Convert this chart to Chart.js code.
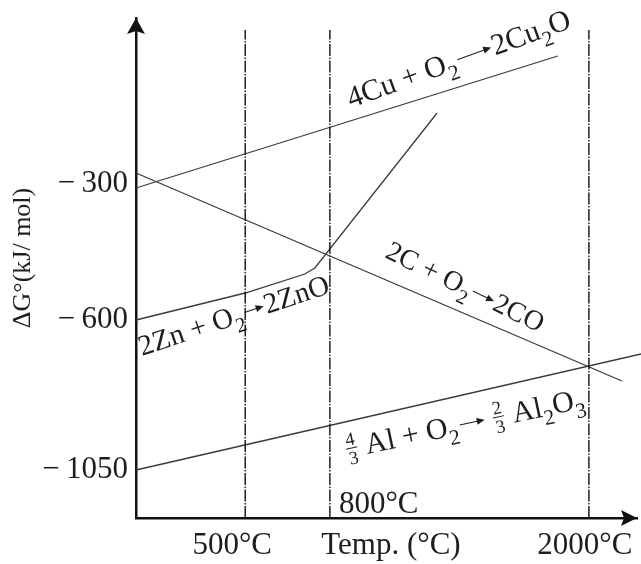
<!DOCTYPE html>
<html><head><meta charset="utf-8">
<script src="https://cdn.jsdelivr.net/npm/chart.js@4/dist/chart.umd.min.js"></script>
<style>html,body{margin:0;padding:0;background:#fff}</style>
</head><body>
<canvas id="c" width="641" height="564"></canvas>
<script>
// Schematic diagram units (the reference is not drawn to scale):
// x: 0 = origin, 100 = arrow tip; y: 0 = temperature axis, 100 = arrow tip
const xTickValues = [19.2, 50.9, 89.6];
const xTickLabels = ['500°C', 'Temp. (°C)', '2000°C'];
const yTickValues = [66.8, 39.6, 9.6];
const yTickLabels = ['−\u2009300', '−\u2009600', '−\u20091050'];
const tempMarkX = [21.8, 38.7, 90.4];      // 500 °C, 800 °C, 2000 °C
const tempMarkTop = 97.6;
const cuX = [0, 84.2];  const cuY = [66.0, 92.4];                 // 4Cu + O2 -> 2Cu2O
const cX  = [0, 97.0];  const cY  = [69.0, 27.4];                 // 2C + O2 -> 2CO
const alX = [0, 100.8]; const alY = [9.6, 32.8];                  // 4/3Al + O2 -> 2/3Al2O3
const znX = [0, 21.8, 33.7, 35.7, 60.1]; const znY = [39.6, 45.0, 48.8, 50.0, 81.0]; // 2Zn + O2 -> 2ZnO

const FAM = '"Liberation Serif", "DejaVu Serif", serif';
const INK = '#1e1e1e';
const LINE = '#3a3a3a';
const pts = (xs, ys) => xs.map((x, i) => ({x, y: ys[i]}));

const datasets = [
  ...tempMarkX.map(x => ({data: [{x, y: 0}, {x, y: tempMarkTop}], borderColor: '#111', borderWidth: 1.4, borderDash: [12, 1.5, 1.5, 1.5]})),
  {data: pts(cuX, cuY), borderColor: LINE, borderWidth: 1.3},
  {data: pts(cX, cY), borderColor: LINE, borderWidth: 1.3},
  {data: pts(alX, alY), borderColor: LINE, borderWidth: 1.3},
  {data: pts(znX, znY), borderColor: LINE, borderWidth: 1.3}
].map(d => Object.assign({pointRadius: 0, fill: false, tension: 0, clip: false}, d));

function drawRuns(ctx, runs, size) {
  let x = 0;
  for (const r of runs) {
    if (r.arrow) {
      const L = r.arrow * size, y = -0.3 * size;
      ctx.beginPath(); ctx.moveTo(x + 2, y); ctx.lineTo(x + L - 4, y); ctx.lineWidth = 1; ctx.stroke();
      ctx.beginPath(); ctx.moveTo(x + L - 1, y); ctx.lineTo(x + L - 9, y - 3.5); ctx.lineTo(x + L - 9, y + 3.5); ctx.closePath(); ctx.fill();
      x += L;
    } else if (r.frac) {
      const fs = size * 0.62; ctx.font = fs + 'px ' + FAM;
      const w = Math.max(ctx.measureText(r.frac[0]).width, ctx.measureText(r.frac[1]).width) + 2;
      const ay = -0.3 * size;
      ctx.textAlign = 'center';
      ctx.fillText(r.frac[0], x + w / 2, ay - 3);
      ctx.textBaseline = 'top'; ctx.fillText(r.frac[1], x + w / 2, ay + 2); ctx.textBaseline = 'alphabetic';
      ctx.fillRect(x, ay - 0.5, w, 1);
      ctx.textAlign = 'left';
      x += w + 1;
    } else {
      const fs = r.sub ? size * 0.72 : size; ctx.font = fs + 'px ' + FAM;
      ctx.fillText(r.t, x, r.sub ? 0.3 * size : 0);
      x += ctx.measureText(r.t).width;
    }
  }
}

const labels = [
  {x: 351, y: 108, a: -20, s: 30, runs: [{t: '4Cu + O'}, {t: '2', sub: 1}, {arrow: 1.3}, {t: '2Cu'}, {t: '2', sub: 1}, {t: 'O'}]},
  {x: 384, y: 257, a: 26, s: 28, runs: [{t: '2C + O'}, {t: '2', sub: 1}, {arrow: 0.95}, {t: '2CO'}]},
  {x: 142, y: 356, a: -18.5, s: 29, runs: [{t: '2Zn + O'}, {t: '2', sub: 1}, {arrow: 0.8}, {t: '2ZnO'}]},
  {x: 348, y: 458, a: -12, s: 30, runs: [{frac: ['4', '3']}, {t: ' Al + O'}, {t: '2', sub: 1}, {arrow: 0.95}, {t: ' '}, {frac: ['2', '3']}, {t: ' Al'}, {t: '2', sub: 1}, {t: 'O'}, {t: '3', sub: 1}]}
];

const deco = {
  id: 'deco',
  afterDraw(chart) {
    const ctx = chart.ctx, a = chart.chartArea;
    ctx.save();
    ctx.fillStyle = '#111'; ctx.strokeStyle = '#111';
    // axis arrowheads
    ctx.beginPath(); ctx.moveTo(a.left, a.top); ctx.lineTo(a.left - 9, a.top + 16); ctx.lineTo(a.left, a.top + 13); ctx.lineTo(a.left + 9, a.top + 16); ctx.closePath(); ctx.fill();
    ctx.beginPath(); ctx.moveTo(a.right, a.bottom); ctx.lineTo(a.right - 16, a.bottom - 8); ctx.lineTo(a.right - 13, a.bottom); ctx.lineTo(a.right - 16, a.bottom + 8); ctx.closePath(); ctx.fill();
    // y title
    ctx.fillStyle = INK;
    ctx.save(); ctx.translate(23, 258); ctx.rotate(-Math.PI / 2);
    ctx.font = '26px ' + FAM; ctx.textAlign = 'center'; ctx.textBaseline = 'middle';
    ctx.fillText('ΔG°(kJ/ mol)', 0, 0); ctx.restore();
    // 800 °C mark label
    ctx.font = '31px ' + FAM; ctx.textAlign = 'left'; ctx.textBaseline = 'alphabetic';
    ctx.fillText('800°C', chart.scales.x.getPixelForValue(tempMarkX[1]) + 9, a.bottom - 5);
    // reaction labels
    ctx.strokeStyle = INK;
    for (const L of labels) {
      ctx.save(); ctx.translate(L.x, L.y); ctx.rotate(L.a * Math.PI / 180);
      ctx.textAlign = 'left'; ctx.textBaseline = 'alphabetic';
      drawRuns(ctx, L.runs, L.s);
      ctx.restore();
    }
    ctx.restore();
  }
};

new Chart(document.getElementById('c'), {
  type: 'line',
  data: {datasets},
  plugins: [deco],
  options: {
    responsive: false, animation: false,
    layout: {padding: {top: 18, right: 4, left: 0, bottom: 0}},
    plugins: {legend: {display: false}, tooltip: {enabled: false}},
    scales: {
      x: {
        type: 'linear', min: 0, max: 100,
        grid: {display: false, drawTicks: false},
        border: {display: true, color: '#111', width: 2.5},
        afterBuildTicks(s) { s.ticks = xTickValues.map(v => ({value: v})); },
        afterFit(s) { s.height = 46; s.paddingLeft = 0; s.paddingRight = 0; },
        ticks: {autoSkip: false, maxRotation: 0, padding: 9, color: INK, font: {family: FAM, size: 31},
          callback: (v, i) => xTickLabels[i]}
      },
      y: {
        type: 'linear', min: 0, max: 100,
        grid: {display: false, drawTicks: false},
        border: {display: true, color: '#111', width: 2.5},
        afterBuildTicks(s) { s.ticks = yTickValues.map(v => ({value: v})); },
        afterFit(s) { s.width = 136; s.paddingTop = 0; s.paddingBottom = 0; },
        ticks: {autoSkip: false, padding: 8, color: INK, font: {family: FAM, size: 31},
          callback: (v, i) => yTickLabels[i]}
      }
    }
  }
});
</script>
</body></html>
